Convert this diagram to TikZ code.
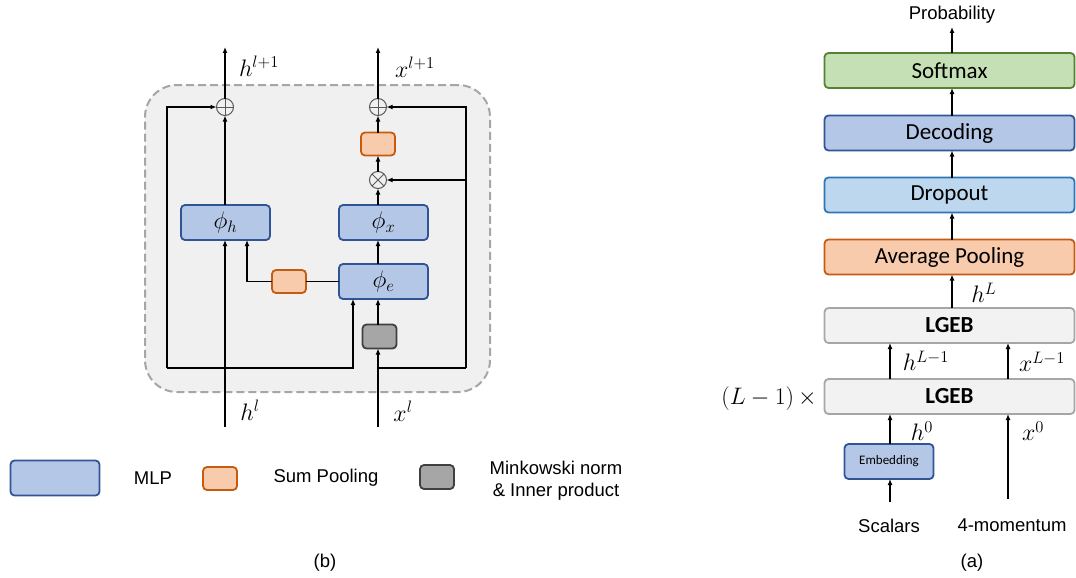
\documentclass[tikz,border=0pt]{standalone}
\usepackage[no-math]{fontspec}
\usepackage{graphicx}
\setmainfont{Liberation Sans}
\newfontfamily\calibri{Carlito}
\usetikzlibrary{arrows.meta,calc}
\newcommand{\mlab}[1]{\scalebox{1.15}{$#1$}}
\definecolor{mlpF}{HTML}{B4C7E7}
\definecolor{mlpD}{HTML}{2F5597}
\definecolor{spF}{HTML}{F8CBAD}
\definecolor{spD}{HTML}{C55A11}
\definecolor{mkF}{HTML}{A6A6A6}
\definecolor{mkD}{HTML}{404040}
\definecolor{smF}{HTML}{C5E0B4}
\definecolor{smD}{HTML}{548235}
\definecolor{doF}{HTML}{BDD7EE}
\definecolor{doD}{HTML}{2E75B6}
\definecolor{lgF}{HTML}{F2F2F2}
\definecolor{lgD}{HTML}{A6A6A6}
\definecolor{bgF}{HTML}{F0F0F0}
\definecolor{opD}{HTML}{595959}
\tikzset{
  arr/.style={-{Latex[length=6pt,width=5pt]}, line width=1.3pt},
  ln/.style={line width=1.3pt},
  boxbase/.style={rounded corners=4pt, line width=1.8pt, inner sep=0pt, outer sep=0pt},
  mlp/.style={boxbase, draw=mlpD, fill=mlpF, minimum width=89pt, minimum height=35pt},
  sp/.style={boxbase, draw=spD, fill=spF, minimum width=34pt, minimum height=23pt},
  mk/.style={boxbase, draw=mkD, fill=mkF, minimum width=34pt, minimum height=24pt},
  wide/.style={boxbase, minimum width=250pt, minimum height=35pt, font=\calibri\fontsize{23}{27}\selectfont},
  opc/.style={circle, draw=opD, line width=1pt, minimum size=17pt, inner sep=0pt, outer sep=0pt},
  mathlbl/.style={inner sep=0pt, font=\fontsize{21}{25}\selectfont},
  txt/.style={inner sep=0pt, font=\fontsize{18.5}{22}\selectfont},
  phi/.style={font=\fontsize{21}{25}\selectfont}
}
\begin{document}
\begin{tikzpicture}[x=1pt,y=-1pt]
\useasboundingbox (0,0) rectangle (1076,578);
% ---------------- panel (b) ----------------
\node[draw=lgD, fill=bgF, dashed, dash pattern=on 8pt off 4pt, line width=2pt, rounded corners=32pt,
  minimum width=345pt, minimum height=307pt, inner sep=0pt] (cont) at (317.5,238.5) {};
\node[opc] (op1) at (225,107) {};
\node[opc] (op2) at (378,107) {};
\node[opc] (ot) at (378,180) {};
\draw[opD, line width=1pt] (op1.north) -- (op1.south) (op1.west) -- (op1.east);
\draw[opD, line width=1pt] (op2.north) -- (op2.south) (op2.west) -- (op2.east);
\draw[opD, line width=1pt] (ot.45) -- (ot.225) (ot.135) -- (ot.-45);
\node[sp] (sp1) at (378,144) {};
\node[mlp, phi] (phih) at (225.5,222.5) {\mlab{\phi_h}};
\node[mlp, phi] (phix) at (383.5,222.5) {\mlab{\phi_x}};
\node[mlp, phi] (phie) at (383.5,281.5) {\mlab{\phi_e}};
\node[sp] (sp2) at (289,281.5) {};
\node[mk] (mkb) at (379.5,336.5) {};
\coordinate (hin) at (225,427);
\coordinate (xin) at (378,427);
\coordinate (hout) at (225,47);
\coordinate (xout) at (378,47);
\coordinate (lc) at (167,368);
\coordinate (lb) at (353,368);
\coordinate (rj) at (378,368);
\coordinate (rc) at (466,368);
\coordinate (rm) at (466,180);
\coordinate (sp2up) at (247,281.5);
% connectors
\draw[arr] (hin) -- (hin |- phih.south);
\draw[arr] (phih.north -| op1) -- (op1.south);
\draw[arr] (op1.north) -- (hout);
\draw[arr] (lc) |- (op1.west);
\draw[arr] (lc) -- (lb) -- (lb |- phie.south);
\draw[ln] (phie.west) -- (sp2.east);
\draw[arr] (sp2.west) -- (sp2up) -- (sp2up |- phih.south);
\draw[arr] (xin) -- (xin |- mkb.south);
\draw[arr] (xin |- mkb.north) -- (xin |- phie.south);
\draw[arr] (xin |- phie.north) -- (xin |- phix.south);
\draw[arr] (xin |- phix.north) -- (ot.south);
\draw[arr] (ot.north) -- (sp1.south);
\draw[arr] (sp1.north) -- (op2.south);
\draw[arr] (op2.north) -- (xout);
\draw[ln] (rj) -- (rc);
\draw[arr] (rc) |- (op2.east);
\draw[arr] (rm) -- (ot.east);
% labels
\node[mathlbl] (lhout) at (259,66) {\mlab{h^{l+1}}};
\node[mathlbl] (lxout) at (415,67) {\mlab{x^{l+1}}};
\node[mathlbl] (lhin) at (250,410) {\mlab{h^{l}}};
\node[mathlbl] (lxin) at (403,411) {\mlab{x^{l}}};
% legend
\node[mlp, minimum width=89pt, minimum height=35pt] (lgm) at (55,478) {};
\node[txt] (lgmt) at (153,478) {MLP};
\node[sp] (lgs) at (220,478.5) {};
\node[txt] (lgst) at (326,478) {Sum Pooling};
\node[mk] (lgk) at (437,477) {};
\node[txt, align=center, font=\fontsize{18.5}{22}\selectfont] (lgkt) at (556,481) {Minkowski norm\\\& Inner product};
\node[txt] (capb) at (325,563) {(b)};
% ---------------- panel (a) ----------------
\node[wide, draw=smD, fill=smF] (soft) at (949.5,70.5) {Softmax};
\node[wide, draw=mlpD, fill=mlpF] (dec) at (949.5,133) {Decoding};
\node[wide, draw=doD, fill=doF] (drop) at (949.5,195) {Dropout};
\node[wide, draw=spD, fill=spF] (avg) at (949.5,257) {Average Pooling};
\node[wide, draw=lgD, fill=lgF, font=\calibri\bfseries\fontsize{23}{27}\selectfont] (lg2) at (949.5,325.5) {LGEB};
\node[wide, draw=lgD, fill=lgF, font=\calibri\bfseries\fontsize{23}{27}\selectfont] (lg1) at (949.5,396.5) {LGEB};
\node[mlp, minimum width=89pt, minimum height=35pt, font=\calibri\fontsize{13}{15}\selectfont] (emb) at (889,461.5) {Embedding};
\node[txt] (prob) at (952,15) {Probability};
\coordinate (probend) at (952,27);
\coordinate (ax) at (952,0);
\coordinate (hx) at (890,0);
\coordinate (xx) at (1008,0);
\coordinate (x0s) at (1008,499);
\coordinate (scs) at (890,502);
\draw[arr] (soft.north -| ax) -- (probend);
\draw[arr] (dec.north -| ax) -- (soft.south -| ax);
\draw[arr] (drop.north -| ax) -- (dec.south -| ax);
\draw[arr] (avg.north -| ax) -- (drop.south -| ax);
\draw[arr] (lg2.north -| ax) -- (avg.south -| ax);
\draw[arr] (lg1.north -| hx) -- (lg2.south -| hx);
\draw[arr] (lg1.north -| xx) -- (lg2.south -| xx);
\draw[arr] (emb.north -| hx) -- (lg1.south -| hx);
\draw[arr] (x0s) -- (lg1.south -| xx);
\draw[arr] (scs) -- (emb.south -| hx);
\node[mathlbl] (lhL) at (984,293) {\mlab{h^{L}}};
\node[mathlbl] (lhL1) at (926,361) {\mlab{h^{L-1}}};
\node[mathlbl] (lxL1) at (1042,362) {\mlab{x^{L-1}}};
\node[mathlbl] (lh0) at (922,431) {\mlab{h^{0}}};
\node[mathlbl] (lx0) at (1033,431) {\mlab{x^{0}}};
\node[mathlbl] (rep) at (769,399) {\mlab{(L-1)\,\times}};
\node[txt] (scal) at (889,526) {Scalars};
\node[txt] (mom) at (1012,525) {4-momentum};
\node[txt] (capa) at (972,563) {(a)};
\end{tikzpicture}
\end{document}
